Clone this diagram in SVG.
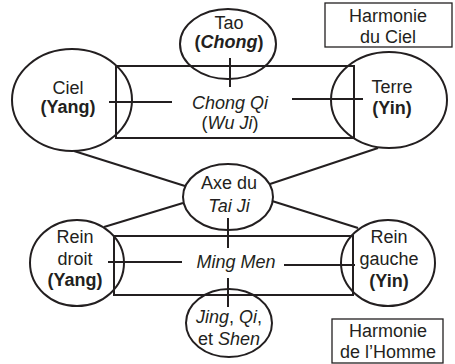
<svg xmlns="http://www.w3.org/2000/svg" width="455" height="364" viewBox="0 0 455 364">
<style>
.s{fill:none;stroke:#231f20;stroke-width:2}
.b{fill:none;stroke:#231f20;stroke-width:1.3}
text{font-family:"Liberation Sans",Arial,sans-serif;font-size:18px;fill:#231f20;text-anchor:middle}
.bd{font-weight:bold}
.i{font-style:italic}
</style>
<rect width="455" height="364" fill="#fff"/>
<g id="connectors">
<rect class="s" x="116" y="66" width="238" height="72"/>
<rect class="s" x="114" y="236" width="239" height="59"/>
<line class="s" x1="109" y1="102" x2="172" y2="102"/>
<line class="s" x1="292" y1="99" x2="363" y2="99"/>
<line class="s" x1="230" y1="58" x2="230" y2="87"/>
<line class="s" x1="74" y1="151" x2="185" y2="186"/>
<line class="s" x1="378" y1="148" x2="270" y2="184"/>
<line class="s" x1="183" y1="203" x2="104" y2="227"/>
<line class="s" x1="272" y1="201" x2="358" y2="228"/>
<line class="s" x1="228" y1="218" x2="228" y2="248"/>
<line class="s" x1="108" y1="262" x2="182" y2="262"/>
<line class="s" x1="284" y1="265" x2="355" y2="265"/>
<line class="s" x1="228" y1="278" x2="228" y2="307"/>
</g>
<g id="chongqi">
<text x="230" y="109"><tspan class="i">Chong Qi</tspan></text>
<text x="230" y="129">(<tspan class="i">Wu Ji</tspan>)</text>
</g>
<g id="tao">
<ellipse class="s" cx="228" cy="44" rx="48" ry="35"/>
<text x="229" y="29">Tao</text>
<text x="229" y="48" class="bd">(<tspan class="i">Chong</tspan>)</text>
</g>
<g id="ciel">
<ellipse class="s" cx="72" cy="100" rx="60" ry="51"/>
<text x="68" y="94">Ciel</text>
<text x="68" y="113" class="bd">(Yang)</text>
</g>
<g id="terre">
<ellipse class="s" cx="389" cy="100" rx="58" ry="48"/>
<text x="392" y="93">Terre</text>
<text x="392" y="114" class="bd">(Yin)</text>
</g>
<g id="harmonie-ciel">
<rect class="b" x="325" y="3" width="127" height="44"/>
<text x="388" y="22">Harmonie</text>
<text x="388" y="43">du Ciel</text>
</g>
<g id="axe">
<ellipse class="s" cx="228" cy="197" rx="45" ry="33"/>
<text x="229" y="189">Axe du</text>
<text x="229" y="212" class="i">Tai Ji</text>
</g>
<g id="mingmen">
<text x="236" y="268" class="i">Ming Men</text>
</g>
<g id="rein-droit">
<ellipse class="s" cx="77" cy="263" rx="47" ry="43"/>
<text x="75" y="243">Rein</text>
<text x="75" y="265">droit</text>
<text x="75" y="286" class="bd">(Yang)</text>
</g>
<g id="rein-gauche">
<ellipse class="s" cx="388" cy="263" rx="47" ry="43"/>
<text x="389" y="243">Rein</text>
<text x="389" y="265">gauche</text>
<text x="389" y="287" class="bd">(Yin)</text>
</g>
<g id="jing">
<ellipse class="s" cx="229" cy="323" rx="43" ry="34"/>
<text x="229" y="323"><tspan class="i">Jing</tspan>, <tspan class="i">Qi</tspan>,</text>
<text x="229" y="345">et <tspan class="i">Shen</tspan></text>
</g>
<g id="harmonie-homme">
<rect class="b" x="332" y="319" width="111" height="44"/>
<text x="388" y="337">Harmonie</text>
<text x="388" y="358">de l’Homme</text>
</g>
</svg>
